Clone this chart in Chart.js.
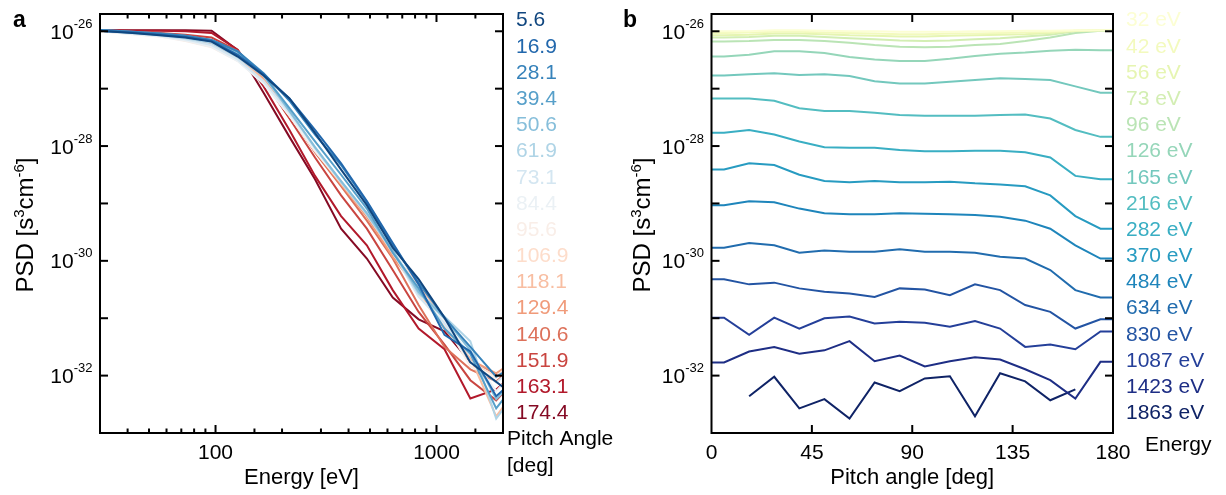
<!DOCTYPE html>
<html><head><meta charset="utf-8">
<script src="https://cdn.jsdelivr.net/npm/chart.js@4/dist/chart.umd.min.js"></script>
<style>
html,body{margin:0;padding:0;background:#fff;}
#wrap{position:relative;width:1226px;height:495px;overflow:hidden;}
canvas{position:absolute;top:0;}
</style></head>
<body><div id="wrap"><canvas id="ca" width="613" height="495" style="left:0"></canvas><canvas id="cb" width="613" height="495" style="left:613px"></canvas></div>
<script>
// ---------------- DATA ----------------
const energies = [32, 42, 56, 73, 96, 126, 165, 216, 282, 370, 484, 634, 830, 1087, 1423, 1863];
const energyLabels = ['32 eV','42 eV','56 eV','73 eV','96 eV','126 eV','165 eV','216 eV','282 eV','370 eV','484 eV','634 eV','830 eV','1087 eV','1423 eV','1863 eV'];
const pitchAngles = [5.625, 16.875, 28.125, 39.375, 50.625, 61.875, 73.125, 84.375, 95.625, 106.875, 118.125, 129.375, 140.625, 151.875, 163.125, 174.375];
const pitchAngleLabels = ['5.6','16.9','28.1','39.4','50.6','61.9','73.1','84.4','95.6','106.9','118.1','129.4','140.6','151.9','163.1','174.4'];
// log10 of PSD [s^3 cm^-6], one array per energy, values by pitch angle
const logPsd32eV   = [-26.00,-26.00,-25.98,-25.98,-25.99,-26.00,-26.00,-26.01,-26.01,-26.01,-26.00,-26.00,-25.99,-25.99,-25.98,-25.98];
const logPsd42eV   = [-26.03,-26.02,-26.01,-26.01,-26.02,-26.03,-26.04,-26.05,-26.05,-26.04,-26.04,-26.03,-26.02,-26.01,-25.99,-25.98];
const logPsd56eV   = [-26.07,-26.06,-26.04,-26.04,-26.05,-26.07,-26.08,-26.09,-26.09,-26.08,-26.07,-26.06,-26.05,-26.03,-25.99,-25.98];
const logPsd73eV   = [-26.11,-26.10,-26.08,-26.08,-26.10,-26.12,-26.14,-26.16,-26.17,-26.16,-26.14,-26.12,-26.09,-26.06,-26.00,-25.98];
const logPsd96eV   = [-26.18,-26.17,-26.15,-26.15,-26.17,-26.20,-26.24,-26.27,-26.28,-26.27,-26.24,-26.22,-26.17,-26.11,-26.03,-25.99];
const logPsd126eV  = [-26.44,-26.41,-26.35,-26.35,-26.38,-26.45,-26.49,-26.52,-26.52,-26.48,-26.43,-26.39,-26.37,-26.34,-26.32,-26.33];
const logPsd165eV  = [-26.77,-26.75,-26.73,-26.76,-26.75,-26.78,-26.87,-26.91,-26.91,-26.88,-26.85,-26.82,-26.83,-26.85,-26.96,-27.07];
const logPsd216eV  = [-27.17,-27.17,-27.21,-27.34,-27.39,-27.39,-27.42,-27.46,-27.47,-27.47,-27.47,-27.46,-27.45,-27.52,-27.72,-27.84];
const logPsd282eV  = [-27.77,-27.72,-27.80,-27.92,-28.02,-28.03,-28.03,-28.07,-28.09,-28.09,-28.08,-28.08,-28.11,-28.20,-28.52,-28.58];
const logPsd370eV  = [-28.41,-28.30,-28.33,-28.50,-28.61,-28.63,-28.61,-28.63,-28.63,-28.62,-28.65,-28.67,-28.70,-28.86,-29.22,-29.44];
const logPsd484eV  = [-29.03,-28.96,-28.98,-29.09,-29.17,-29.19,-29.19,-29.17,-29.18,-29.19,-29.20,-29.23,-29.30,-29.44,-29.73,-29.96];
const logPsd634eV  = [-29.77,-29.69,-29.73,-29.86,-29.82,-29.84,-29.84,-29.80,-29.84,-29.84,-29.86,-29.93,-29.96,-30.16,-30.51,-30.64];
const logPsd830eV  = [-30.32,-30.41,-30.38,-30.48,-30.54,-30.57,-30.63,-30.48,-30.50,-30.60,-30.41,-30.51,-30.77,-30.89,-31.18,-31.02];
const logPsd1087eV = [-30.99,-31.29,-30.99,-31.18,-31.00,-30.97,-31.09,-31.06,-31.08,-31.15,-31.05,-31.18,-31.50,-31.46,-31.54,-31.23];
const logPsd1423eV = [-31.77,-31.58,-31.50,-31.62,-31.56,-31.40,-31.75,-31.65,-31.84,-31.75,-31.68,-31.72,-31.89,-32.08,-32.40,-31.76];
const logPsd1863eV = [null,-32.36,-32.02,-32.57,-32.41,-32.75,-32.12,-32.27,-32.05,-32.01,-32.71,-31.96,-32.10,-32.43,-32.24,null];
// panel a: spectra run past the axis limits at both ends
const edgeEnergies = [24.4, 2440];
const logPsdEdgeLow  = [-25.96,-25.96,-25.97,-25.97,-25.97,-25.97,-25.97,-25.97,-25.97,-25.97,-25.97,-25.97,-25.97,-25.98,-25.98,-25.98];
const logPsdEdgeHigh = [-32.45,-31.95,-31.75,-32.00,-31.95,-32.15,-31.75,-31.80,-31.65,-31.65,-32.10,-31.65,-31.75,-31.95,-31.85,-32.20];
// axes
const yRange = [1e-33, 2e-26];
const yLabelExponents = [-26, -28, -30, -32];
const xRangeA = [30, 2000];
const xTickLabelsA = [100, 1000];
const xRangeB = [0, 180];
const xTickLabelsB = [0, 45, 90, 135, 180];

const logPsdByEnergy = [logPsd32eV, logPsd42eV, logPsd56eV, logPsd73eV, logPsd96eV, logPsd126eV, logPsd165eV, logPsd216eV,
  logPsd282eV, logPsd370eV, logPsd484eV, logPsd634eV, logPsd830eV, logPsd1087eV, logPsd1423eV, logPsd1863eV];

// ---------------- STYLE ----------------
const FAM = '"Liberation Sans", Arial, Helvetica, sans-serif';
const RdBu_r = ['#053061','#2166ac','#4393c3','#92c5de','#d1e5f0','#f7f7f7','#fddbc7','#f4a582','#d6604d','#b2182b','#67001f'];
const YlGnBu = ['#ffffd9','#edf8b1','#c7e9b4','#7fcdbb','#41b6c4','#1d91c0','#225ea8','#253494','#081d58'];
function hex2rgb(h){return [1,3,5].map(i=>parseInt(h.substr(i,2),16));}
function cmap(stops,t){
  const n=stops.length-1, f=Math.min(n-1e-9,Math.max(0,t*n)), i=Math.floor(f), u=f-i;
  const a=hex2rgb(stops[i]), b=hex2rgb(stops[i+1]);
  return 'rgb('+a.map((v,k)=>Math.round(v+(b[k]-v)*u)).join(',')+')';
}
const colorsA = pitchAngles.map((_,i)=>cmap(RdBu_r, 0.04 + i*0.92/15));
const colorsB = energies.map((_,i)=>cmap(YlGnBu, 0.02 + i*0.95/15));
const toPsd = v => (v===null ? null : Math.pow(10, v));

// ---------------- DATASETS ----------------
const datasetsA = pitchAngles.map((pa, j) => ({
  label: pitchAngleLabels[j],
  data: [{x: edgeEnergies[0], y: toPsd(logPsdEdgeLow[j])}]
        .concat(energies.map((e, i) => ({x: e, y: toPsd(logPsdByEnergy[i][j])})))
        .concat([{x: edgeEnergies[1], y: toPsd(logPsdEdgeHigh[j])}]),
  borderColor: colorsA[j], borderWidth: 2, pointRadius: 0, tension: 0, spanGaps: true, clip: 0
}));
const datasetsB = energies.map((e, i) => {
  const row = logPsdByEnergy[i];
  return {
    label: energyLabels[i],
    data: [{x: xRangeB[0], y: toPsd(row[0])}]
          .concat(pitchAngles.map((pa, j) => ({x: pa, y: toPsd(row[j])})))
          .concat([{x: xRangeB[1], y: toPsd(row[row.length-1])}]),
    borderColor: colorsB[i], borderWidth: 2, pointRadius: 0, tension: 0, spanGaps: false, clip: 0
  };
});

// ---------------- DRAW HELPERS ----------------
function seg(ctx,x1,y1,x2,y2){ctx.beginPath();ctx.moveTo(x1,y1);ctx.lineTo(x2,y2);ctx.stroke();}
function drawPow(ctx, exp, xr, yc){
  ctx.textBaseline='alphabetic'; ctx.textAlign='left';
  const sup = String(exp);
  ctx.font = '13px '+FAM; const ws = ctx.measureText(sup).width;
  ctx.font = '21px '+FAM; const wb = ctx.measureText('10').width;
  ctx.fillText('10', xr - ws - wb, yc + 7.5);
  ctx.font = '13px '+FAM; ctx.fillText(sup, xr - ws, yc - 3.4);
}
function drawYTitle(ctx, xb, yc){
  const parts = [['PSD [s',0],['3',1],['cm',0],['-6',1],[']',0]];
  const big='24px '+FAM, small='15px '+FAM;
  let total=0; parts.forEach(p=>{ctx.font=p[1]?small:big; total+=ctx.measureText(p[0]).width;});
  ctx.save(); ctx.translate(xb, yc); ctx.rotate(-Math.PI/2);
  ctx.textBaseline='alphabetic'; ctx.textAlign='left';
  let x=-total/2;
  parts.forEach(p=>{ctx.font=p[1]?small:big; ctx.fillText(p[0], x, p[1]?-9:0); x+=ctx.measureText(p[0]).width;});
  ctx.restore();
}
function decorPlugin(cfg){
  return {id:'decor', afterDraw(chart){
    const {ctx, chartArea:a, scales:{x,y}} = chart;
    ctx.save();
    ctx.fillStyle='#000'; ctx.strokeStyle='#000';
    ctx.lineWidth=2;
    ctx.strokeRect(a.left, a.top, a.right-a.left, a.bottom-a.top);
    for (let e=-33; e<=-26; e++){
      const p = y.getPixelForValue(Math.pow(10,e));
      if (p < a.top-1 || p > a.bottom+1) continue;
      seg(ctx, a.left, p, a.left+8, p); seg(ctx, a.right, p, a.right-8, p);
    }
    x.ticks.forEach(t=>{
      const p = x.getPixelForValue(t.value);
      if (p < a.left+1 || p > a.right-1) return;
      const L = cfg.isMajor(t.value) ? 8 : 4.5;
      seg(ctx, p, a.bottom, p, a.bottom-L); seg(ctx, p, a.top, p, a.top+L);
    });
    yLabelExponents.forEach(e=>{ drawPow(ctx, e, a.left-7.5, y.getPixelForValue(Math.pow(10,e))); });
    drawYTitle(ctx, cfg.yTitleX, 225);
    ctx.font='22px '+FAM; ctx.textAlign='center'; ctx.textBaseline='middle';
    ctx.fillText(cfg.xTitle, (a.left+a.right)/2, 478);
    ctx.font='bold 23px '+FAM; ctx.textAlign='left'; ctx.textBaseline='alphabetic';
    ctx.fillText(cfg.letter, cfg.letterX, 26.5);
    ctx.font='21px '+FAM; ctx.textBaseline='middle';
    cfg.legend.forEach((s,i)=>{ ctx.fillStyle=cfg.legendColors[i]; ctx.fillText(s, cfg.legendX, 20.7 + i*26.17); });
    ctx.fillStyle='#000'; ctx.font='21px '+FAM;
    cfg.legendTitle.forEach(l=>ctx.fillText(l[0], l[1], l[2]));
    ctx.restore();
  }};
}
function xScale(type, range, labels, height){
  return {type, min: range[0], max: range[1],
    grid:{display:false, drawTicks:false}, border:{display:false},
    ticks:{autoSkip:false, maxRotation:0, padding:8, color:'#000', font:{family:FAM, size:21},
      stepSize: type==='linear' ? 45 : undefined,
      callback:(v)=> labels.some(l=>Math.abs(l-v)<1e-6) ? String(v) : ''},
    afterFit(s){ s.height = height; }};
}
function yScale(width){
  return {type:'logarithmic', min:yRange[0], max:yRange[1],
    grid:{display:false, drawTicks:false}, border:{display:false},
    ticks:{display:false}, afterFit(s){ s.width = width; }};
}
const common = {animation:false, responsive:false, events:[],
  plugins:{legend:{display:false}, tooltip:{enabled:false}}};

new Chart(document.getElementById('ca'), {
  type:'line', data:{datasets:datasetsA},
  options:Object.assign({}, common, {
    layout:{padding:{left:0, right:110, top:14, bottom:0}},
    scales:{x:xScale('logarithmic', xRangeA, xTickLabelsA, 62), y:yScale(100)}
  }),
  plugins:[decorPlugin({isMajor:v=>xTickLabelsA.includes(Math.round(v)), yTitleX:33, xTitle:'Energy [eV]',
    letter:'a', letterX:13, legend:pitchAngleLabels, legendColors:colorsA, legendX:516,
    legendTitle:[['Pitch Angle',507,439],['[deg]',507,466]]})]
});
new Chart(document.getElementById('cb'), {
  type:'line', data:{datasets:datasetsB},
  options:Object.assign({}, common, {
    layout:{padding:{left:0.5, right:113, top:14, bottom:0}},
    scales:{x:xScale('linear', xRangeB, xTickLabelsB, 62), y:yScale(98)}
  }),
  plugins:[decorPlugin({isMajor:v=>true, yTitleX:37, xTitle:'Pitch angle [deg]',
    letter:'b', letterX:10, legend:energyLabels, legendColors:colorsB, legendX:513,
    legendTitle:[['Energy',532,445]]})]
});
</script></body></html>
